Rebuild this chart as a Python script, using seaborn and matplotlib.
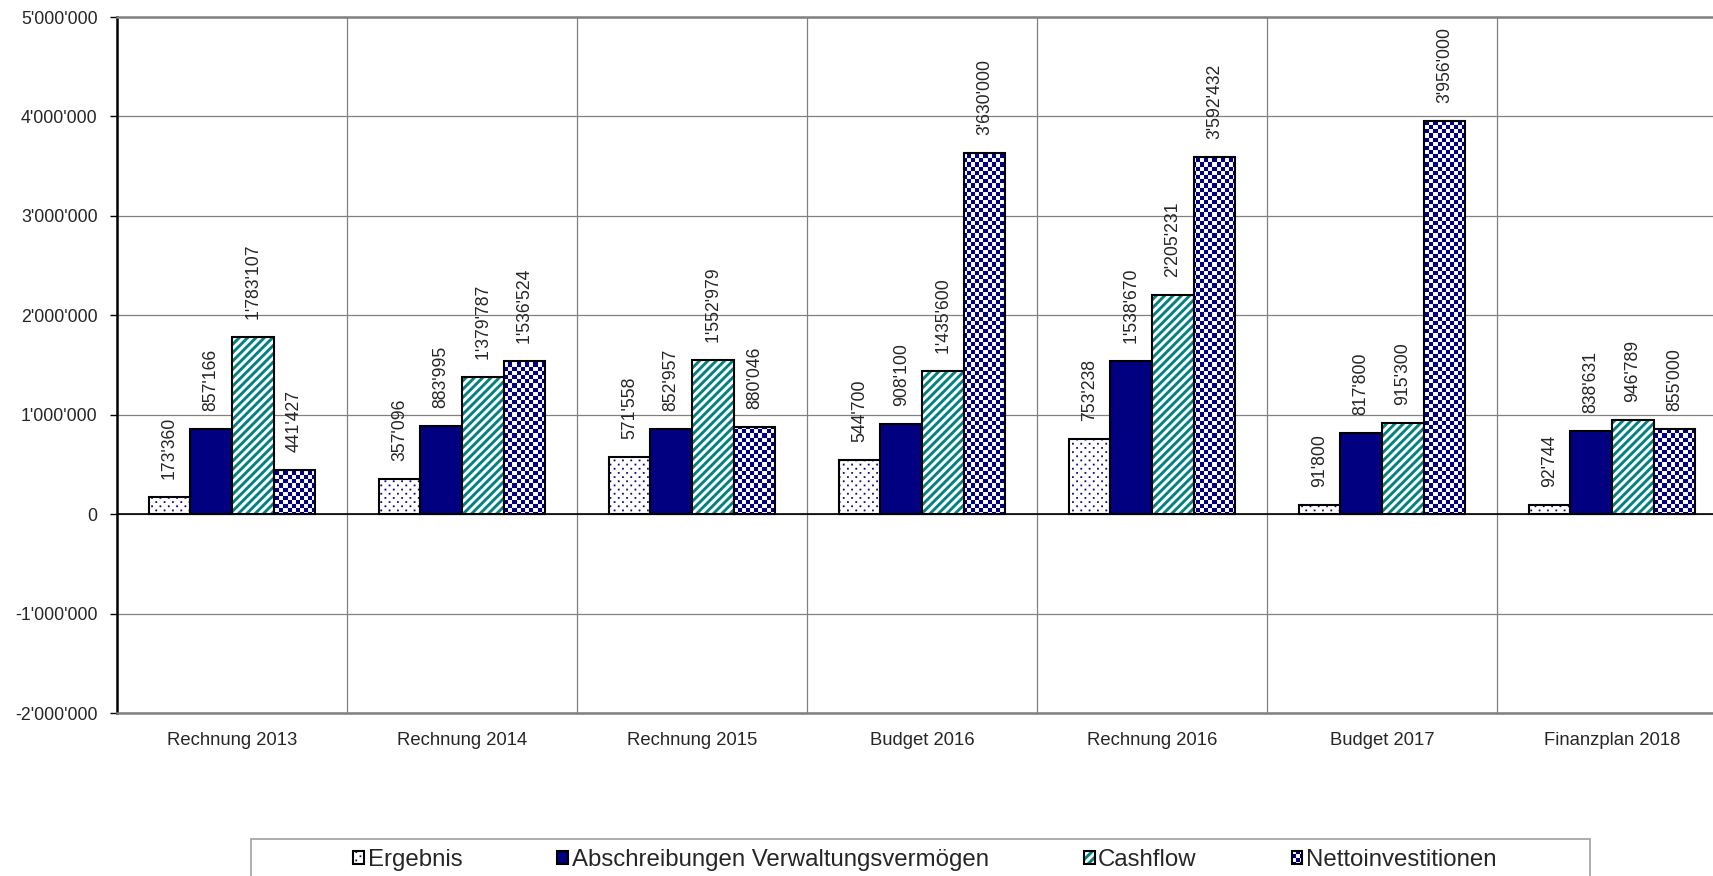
import numpy as np
import pandas as pd
import matplotlib
matplotlib.use("Agg")
import matplotlib.pyplot as plt
import matplotlib.hatch as mhatch
from matplotlib.path import Path
from matplotlib.patches import Rectangle
from matplotlib.ticker import FixedLocator, FuncFormatter
import seaborn as sns

# ---------------- data ----------------
categories = ["Rechnung 2013", "Rechnung 2014", "Rechnung 2015", "Budget 2016",
              "Rechnung 2016", "Budget 2017", "Finanzplan 2018"]
series = ["Ergebnis", "Abschreibungen Verwaltungsvermögen", "Cashflow", "Nettoinvestitionen"]
ergebnis = [173360, 357096, 571558, 544700, 753238, 91800, 92744]
abschreibungen = [857166, 883995, 852957, 908100, 1538670, 817800, 838631]
cashflow = [1783107, 1379787, 1552979, 1435600, 2205231, 915300, 946789]
nettoinvestitionen = [441427, 1536524, 880046, 3630000, 3592432, 3956000, 855000]
y_ticks = [-2000000, -1000000, 0, 1000000, 2000000, 3000000, 4000000, 5000000]

NAVY = "#000080"
TEAL = "#008080"
DPI = 100

SQ_CODES = [Path.MOVETO, Path.LINETO, Path.LINETO, Path.LINETO, Path.CLOSEPOLY]


# ---------------- custom filled hatch patterns (unit tile = 72 pt = DPI px) ----------------
class CheckerHatch(mhatch.HatchPatternBase):
    """'*' -> navy/white checkerboard, cell edges snapped to pixels"""
    def __init__(self, hatch, density):
        self.n = 24 if '*' in hatch else 0
        self.num_vertices = (self.n * self.n // 2) * 5

    def set_vertices_and_codes(self, vertices, codes):
        edges = np.round(np.arange(self.n + 1) * DPI / self.n) / DPI
        parts = []
        for i in range(self.n):
            for j in range(self.n):
                if (i + j) % 2 == 0:
                    x0, x1, y0, y1 = edges[i], edges[i + 1], edges[j], edges[j + 1]
                    parts.append(np.array([[x0, y0], [x1, y0], [x1, y1], [x0, y1], [x0, y0]]))
        vertices[:] = np.concatenate(parts)
        codes[:] = np.tile(SQ_CODES, len(parts))


class StripeHatch(mhatch.HatchPatternBase):
    """'/' -> wide upward diagonal stripes (filled)"""
    def __init__(self, hatch, density):
        self.n = 12 if '/' in hatch else 0
        self.num_vertices = (2 * self.n + 1) * 5 if self.n else 0

    def set_vertices_and_codes(self, vertices, codes):
        p = 1.0 / self.n
        w = 0.48 * p
        parts = []
        for k in range(-self.n, self.n + 1):
            x0 = k * p
            parts.append(np.array([[x0, 0], [x0 + w, 0], [x0 + w + 1, 1],
                                   [x0 + 1, 1], [x0, 0]], dtype=float))
        vertices[:] = np.concatenate(parts)
        codes[:] = np.tile(SQ_CODES, len(parts))


class DotHatch(mhatch.HatchPatternBase):
    """'.' -> sparse small dots on a staggered lattice"""
    def __init__(self, hatch, density):
        self.cols = 12 if '.' in hatch else 0
        self.rows = 24 if '.' in hatch else 0
        self.num_vertices = self.cols * self.rows * 5

    def set_vertices_and_codes(self, vertices, codes):
        cx = 1.0 / self.cols
        ry = 1.0 / self.rows
        d = 0.0085
        sq = np.array([[-d, -d], [d, -d], [d, d], [-d, d], [-d, -d]], dtype=float)
        parts = []
        for r in range(self.rows):
            off = (cx / 2) if (r % 2) else 0.0
            for c in range(self.cols):
                parts.append(sq + [c * cx + off + cx / 4, r * ry + ry / 2])
        vertices[:] = np.concatenate(parts)
        codes[:] = np.tile(SQ_CODES, len(parts))


mhatch._hatch_types = [CheckerHatch, StripeHatch, DotHatch]

# ---------------- style ----------------
sns.set_style("white")
plt.rcParams['font.family'] = ['Liberation Sans', 'DejaVu Sans']
plt.rcParams['hatch.linewidth'] = 0.05

values = {series[0]: ergebnis, series[1]: abschreibungen,
          series[2]: cashflow, series[3]: nettoinvestitionen}
rows = []
for s in series:
    for c, v in zip(categories, values[s]):
        rows.append({"Kategorie": c, "Reihe": s, "Wert": v})
df = pd.DataFrame(rows)

face_colors = {series[0]: "white", series[1]: NAVY, series[2]: "white", series[3]: "white"}
hatches = [".", None, "/", "*"]
hatch_colors = [NAVY, NAVY, TEAL, NAVY]

fig = plt.figure(figsize=(17.13, 8.76), dpi=DPI)
W, H = 1713.0, 876.0
ax_left, ax_right, ax_top, ax_bottom = 117, 1727, 17, 713
ax = fig.add_axes([ax_left / W, 1 - ax_bottom / H, (ax_right - ax_left) / W, (ax_bottom - ax_top) / H])

sns.barplot(data=df, x="Kategorie", y="Wert", hue="Reihe", order=categories,
            hue_order=series, palette=face_colors, width=0.725, gap=0,
            saturation=1, edgecolor="black", linewidth=1.5, legend=False,
            errorbar=None, ax=ax, zorder=3)

for cont, h, hc, s in zip(ax.containers, hatches, hatch_colors, series):
    for p in cont.patches:
        if h:
            p.set_hatch(h)
        if hasattr(p, "set_hatchcolor"):
            p.set_hatchcolor(hc)
        else:
            p._hatch_color = matplotlib.colors.to_rgba(hc)
        if hasattr(p, "set_hatch_linewidth"):
            p.set_hatch_linewidth(0.05)
    cont.set_label(s)
    labels = [f"{v:,}".replace(",", "'") for v in values[s]]
    ax.bar_label(cont, labels=labels, rotation=90, padding=13, fontsize=12.7)

# axes limits and ticks
ax.set_xlim(-0.5, len(categories) - 0.5)
ax.set_ylim(y_ticks[0], y_ticks[-1])
ax.yaxis.set_major_locator(FixedLocator(y_ticks))
ax.yaxis.set_major_formatter(FuncFormatter(lambda v, p: f"{int(v):,}".replace(",", "'")))
ax.xaxis.set_minor_locator(FixedLocator(np.arange(0.5, len(categories) - 0.5, 1.0)))
ax.set_xlabel("")
ax.set_ylabel("")

ax.tick_params(axis="y", which="major", direction="out", length=5, width=1,
               color="black", labelsize=12.8, pad=9, left=True)
ax.tick_params(axis="x", which="both", length=0, labelsize=13.3, pad=14)

ax.grid(False)
ax.set_axisbelow(True)
ax.yaxis.grid(True, which="major", color="#808080", linewidth=0.9, zorder=0)
ax.xaxis.grid(True, which="minor", color="#808080", linewidth=0.9, zorder=0)
ax.axhline(0, color="black", linewidth=1.2, zorder=2.5)

for side in ["top", "bottom"]:
    ax.spines[side].set_color("#808080")
    ax.spines[side].set_linewidth(1.8)
ax.spines["left"].set_color("black")
ax.spines["left"].set_linewidth(1.8)
ax.spines["right"].set_visible(False)

# legend
leg = fig.legend(handles=list(ax.containers), labels=series, loc="center",
                 bbox_to_anchor=(925 / W, 1 - 860 / H), ncol=4, frameon=False,
                 fontsize=17.3, handlelength=0.45, handleheight=0.45,
                 handletextpad=0.15, columnspacing=3.95, borderpad=0)
fig.add_artist(Rectangle((251 / W, -0.05), (1590 - 251) / W, (1 - 839 / H) + 0.05,
                         transform=fig.transFigure, facecolor="none",
                         edgecolor="#a0a0a0", linewidth=1.2, clip_on=False))

fig.savefig("out.png", dpi=DPI)
